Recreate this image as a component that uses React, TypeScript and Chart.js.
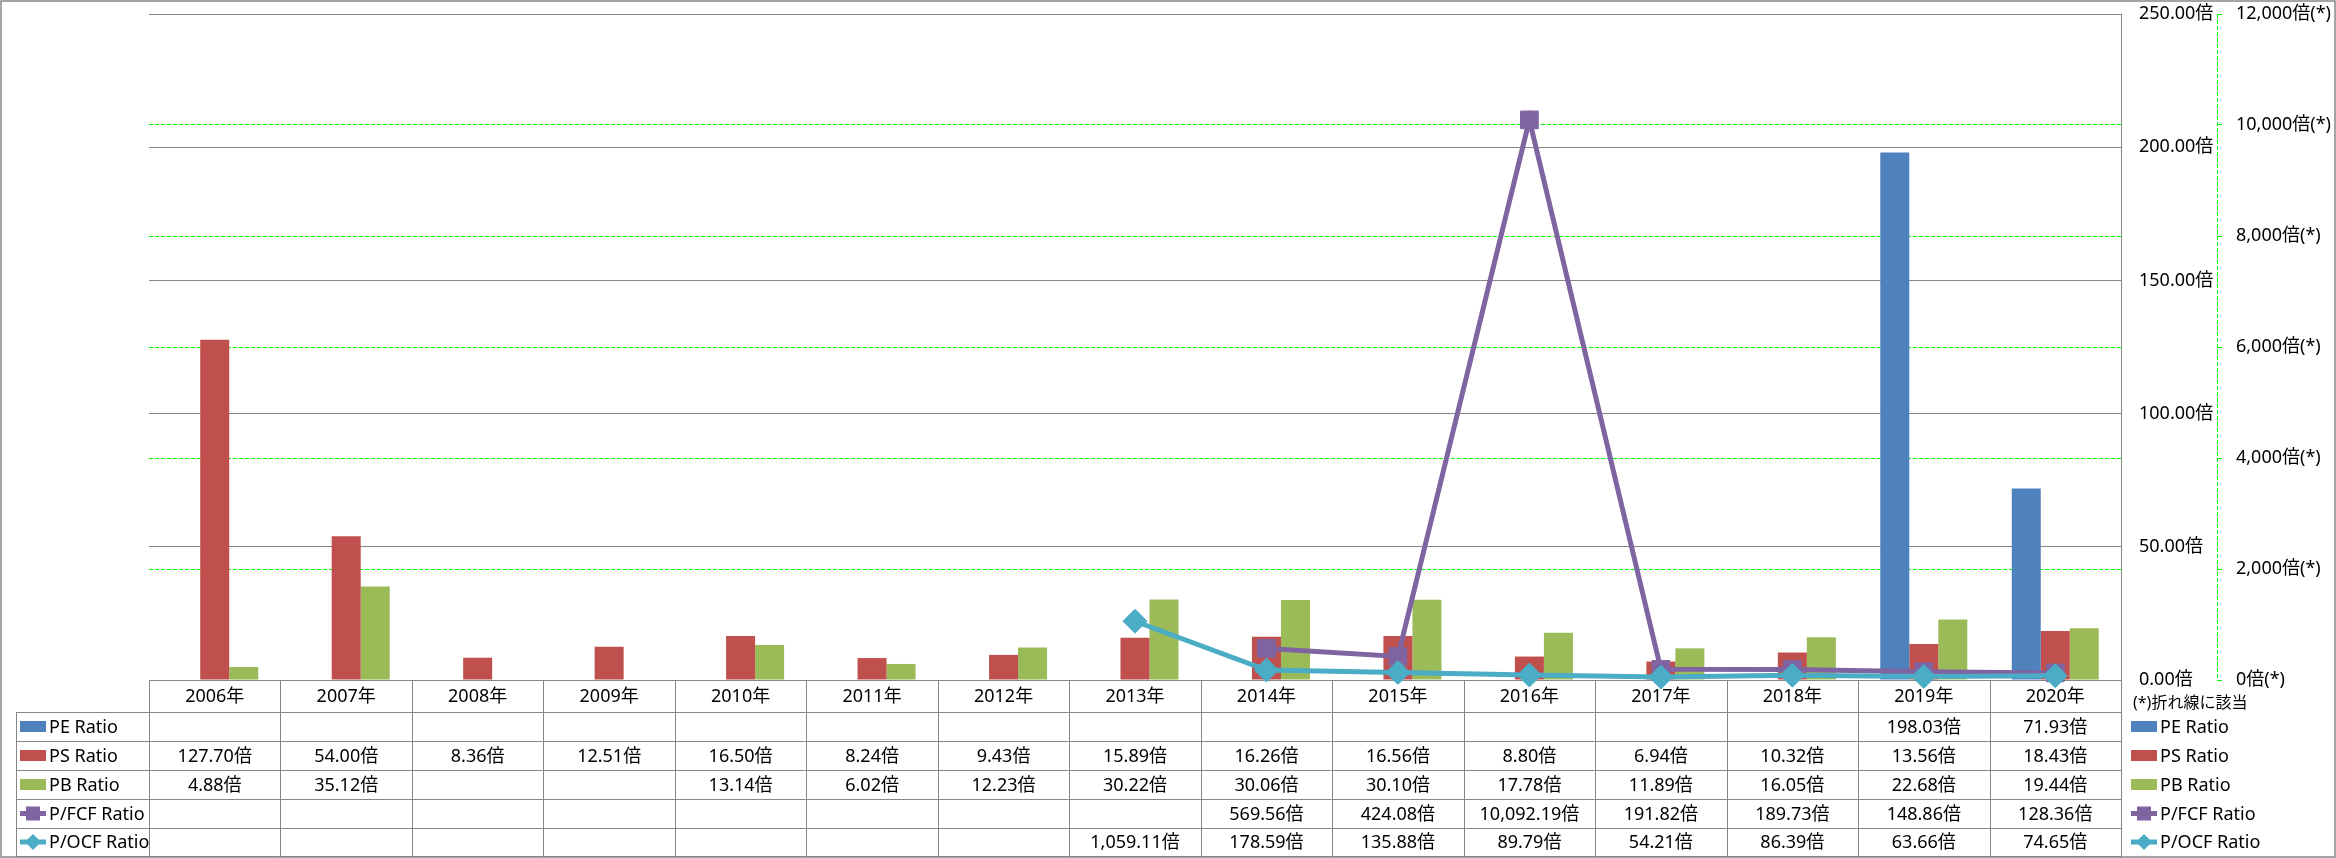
import React, { useEffect, useRef } from 'react';
import { Chart, registerables } from 'chart.js';

Chart.register(...registerables);

// ---------------- data ----------------
const categories = ['2006年', '2007年', '2008年', '2009年', '2010年', '2011年', '2012年', '2013年', '2014年', '2015年', '2016年', '2017年', '2018年', '2019年', '2020年'];
const peRatio = [null, null, null, null, null, null, null, null, null, null, null, null, null, 198.03, 71.93];
const psRatio = [127.70, 54.00, 8.36, 12.51, 16.50, 8.24, 9.43, 15.89, 16.26, 16.56, 8.80, 6.94, 10.32, 13.56, 18.43];
const pbRatio = [4.88, 35.12, null, null, 13.14, 6.02, 12.23, 30.22, 30.06, 30.10, 17.78, 11.89, 16.05, 22.68, 19.44];
const pfcfRatio = [null, null, null, null, null, null, null, null, 569.56, 424.08, 10092.19, 191.82, 189.73, 148.86, 128.36];
const pocfRatio = [null, null, null, null, null, null, null, 1059.11, 178.59, 135.88, 89.79, 54.21, 86.39, 63.66, 74.65];
const seriesNames = ['PE Ratio', 'PS Ratio', 'PB Ratio', 'P/FCF Ratio', 'P/OCF Ratio'];
const footnote = '(*)折れ線に該当';
const leftAxisRange = [0, 250, 50];
const rightAxisRange = [0, 12000, 2000];

// ---------------- styles ----------------
const COLORS = ['#4F81BD', '#C0504D', '#9BBB59', '#8064A2', '#4BACC6'];
const GRAY = '#868686';
const GREEN = '#00FF00';
const FONT_FAMILY = '"Noto Sans", "Noto Sans CJK JP", sans-serif';

const fmtVal = (v: number) =>
  v.toLocaleString('en-US', { minimumFractionDigits: 2, maximumFractionDigits: 2 }) + '倍';
const fmtLeft = (v: number) => Number(v).toFixed(2) + '倍';
const fmtRight = (v: number) => Number(v).toLocaleString('en-US') + '倍(*)';

const tableData = [peRatio, psRatio, pbRatio, pfcfRatio, pocfRatio];

function drawKey(ctx: CanvasRenderingContext2D, idx: number, x: number, cy: number) {
  const w = 26;
  ctx.save();
  ctx.fillStyle = COLORS[idx];
  ctx.strokeStyle = COLORS[idx];
  if (idx < 3) {
    ctx.fillRect(x, cy - 5.5, w, 11);
  } else {
    ctx.lineWidth = 5;
    ctx.beginPath();
    ctx.moveTo(x, cy);
    ctx.lineTo(x + w, cy);
    ctx.stroke();
    const cx = x + w / 2;
    ctx.beginPath();
    if (idx === 3) {
      ctx.rect(cx - 7, cy - 7, 14, 14);
    } else {
      ctx.moveTo(cx - 8, cy);
      ctx.lineTo(cx, cy - 8);
      ctx.lineTo(cx + 8, cy);
      ctx.lineTo(cx, cy + 8);
      ctx.closePath();
    }
    ctx.fill();
  }
  ctx.restore();
}

const tablePlugin = {
  id: 'dataTable',
  beforeDatasetsDraw(chart: any) {
    const { ctx, chartArea } = chart;
    const xs = chart.scales.x;
    const y1 = chart.scales.y;
    const y2 = chart.scales.y2;
    const n = categories.length;
    const colW = (chartArea.right - chartArea.left) / n;
    const rows = [chartArea.bottom, 712, 741, 770, 799, 828, 856];
    const tableLeft = 16;
    const a = (v: number) => Math.round(v) + 0.5;

    ctx.save();
    // secondary axis line (dashed green)
    ctx.strokeStyle = GREEN;
    ctx.lineWidth = 1;
    ctx.setLineDash([4, 2]);
    ctx.beginPath();
    ctx.moveTo(a(y2.left), y2.top);
    ctx.lineTo(a(y2.left), y2.bottom);
    ctx.stroke();
    ctx.setLineDash([]);

    // axis tick labels (left-aligned, as in the original)
    ctx.fillStyle = '#000';
    ctx.font = `18px ${FONT_FAMILY}`;
    ctx.textAlign = 'left';
    ctx.textBaseline = 'middle';
    y1.ticks.forEach((t: any) => {
      ctx.fillText(fmtLeft(t.value), y1.left + 18, y1.getPixelForValue(t.value));
    });
    y2.ticks.forEach((t: any) => {
      ctx.fillText(fmtRight(t.value), y2.left + 19, y2.getPixelForValue(t.value));
    });

    // table grid
    ctx.strokeStyle = GRAY;
    ctx.lineWidth = 1;
    ctx.beginPath();
    for (let r = 1; r < rows.length; r++) {
      ctx.moveTo(tableLeft, a(rows[r]));
      ctx.lineTo(chartArea.right, a(rows[r]));
    }
    for (let k = 0; k <= n; k++) {
      const xx = a(chartArea.left + k * colW);
      ctx.moveTo(xx, rows[0]);
      ctx.lineTo(xx, rows[rows.length - 1]);
    }
    ctx.moveTo(a(tableLeft), rows[1]);
    ctx.lineTo(a(tableLeft), rows[rows.length - 1]);
    ctx.moveTo(a(chartArea.right), chartArea.bottom);
    ctx.lineTo(a(chartArea.right), 858);
    ctx.stroke();

    // header labels
    ctx.fillStyle = '#000';
    ctx.textAlign = 'center';
    categories.forEach((c, i) => {
      ctx.fillText(c, xs.getPixelForValue(i), (rows[0] + rows[1]) / 2 + 1);
    });

    // rows
    tableData.forEach((arr, s) => {
      const cy = (rows[s + 1] + rows[s + 2]) / 2;
      drawKey(ctx, s, 20, cy);
      ctx.fillStyle = '#000';
      ctx.textAlign = 'left';
      ctx.fillText(seriesNames[s], 49, cy + 1);
      ctx.textAlign = 'center';
      arr.forEach((v, i) => {
        if (v === null || v === undefined) return;
        ctx.fillText(fmtVal(v as number), xs.getPixelForValue(i), cy + 1);
      });
      drawKey(ctx, s, 2131, cy);
      ctx.fillStyle = '#000';
      ctx.textAlign = 'left';
      ctx.fillText(seriesNames[s], 2160, cy + 1);
    });

    // footnote
    ctx.font = `16px ${FONT_FAMILY}`;
    ctx.textAlign = 'left';
    ctx.fillText(footnote, 2133, 703);

    ctx.restore();
  },
  afterDraw(chart: any) {
    const { ctx } = chart;
    ctx.save();
    ctx.strokeStyle = GRAY;
    ctx.lineWidth = 1.5;
    ctx.strokeRect(1, 1, 2334, 856);
    ctx.restore();
  },
};

export default function App() {
  const ref = useRef<HTMLCanvasElement | null>(null);

  useEffect(() => {
    document.body.style.margin = '0';
    const canvas = ref.current;
    if (!canvas) return;
    Chart.defaults.font.family = FONT_FAMILY;
    Chart.defaults.font.size = 18;
    Chart.defaults.color = '#000';

    const fitRight = (w: number) => (s: any) => {
      s.width = w;
      s.paddingTop = 0;
      s.paddingBottom = 0;
    };

    const chart = new Chart(canvas, {
      type: 'bar',
      data: {
        labels: categories,
        datasets: [
          { type: 'bar', label: seriesNames[0], data: peRatio, backgroundColor: COLORS[0], yAxisID: 'y', order: 2, categoryPercentage: 0.662, barPercentage: 1 },
          { type: 'bar', label: seriesNames[1], data: psRatio, backgroundColor: COLORS[1], yAxisID: 'y', order: 2, categoryPercentage: 0.662, barPercentage: 1 },
          { type: 'bar', label: seriesNames[2], data: pbRatio, backgroundColor: COLORS[2], yAxisID: 'y', order: 2, categoryPercentage: 0.662, barPercentage: 1 },
          {
            type: 'line', label: seriesNames[3], data: pfcfRatio, yAxisID: 'y2', order: 1,
            borderColor: COLORS[3], backgroundColor: COLORS[3], borderWidth: 5, tension: 0,
            pointStyle: 'rect', pointRadius: 12.5, pointBackgroundColor: COLORS[3], pointBorderColor: COLORS[3], pointBorderWidth: 1,
            clip: false,
          },
          {
            type: 'line', label: seriesNames[4], data: pocfRatio, yAxisID: 'y2', order: 0,
            borderColor: COLORS[4], backgroundColor: COLORS[4], borderWidth: 5, tension: 0,
            pointStyle: 'rectRot', pointRadius: 12, pointBackgroundColor: COLORS[4], pointBorderColor: COLORS[4], pointBorderWidth: 1,
            clip: false,
          },
        ] as any,
      },
      options: {
        responsive: false,
        animation: false,
        devicePixelRatio: 1,
        layout: { padding: { left: 149, top: 14, right: 0, bottom: 178 } },
        plugins: { legend: { display: false }, tooltip: { enabled: false } },
        scales: {
          x: { display: false, offset: true },
          y: {
            type: 'linear', position: 'right', weight: 0,
            min: leftAxisRange[0], max: leftAxisRange[1],
            ticks: { stepSize: leftAxisRange[2], display: false, callback: (v: any) => fmtLeft(v) },
            grid: { color: GRAY, lineWidth: 1, drawTicks: false },
            border: { display: true, color: GRAY, width: 1 },
            afterFit: fitRight(96),
          },
          y2: {
            type: 'linear', position: 'right', weight: 1,
            min: rightAxisRange[0], max: rightAxisRange[1],
            ticks: { stepSize: rightAxisRange[2], display: false, callback: (v: any) => fmtRight(v) },
            grid: {
              color: (c: any) => (c.tick && (c.tick.value === rightAxisRange[0] || c.tick.value === rightAxisRange[1]) ? 'rgba(0,0,0,0)' : GREEN),
              lineWidth: 1, drawTicks: true, tickLength: 5, tickColor: GREEN,
            },
            border: { display: false, dash: [4, 2] },
            afterFit: fitRight(119),
          },
        } as any,
      },
      plugins: [tablePlugin],
    });
    return () => chart.destroy();
  }, []);

  return (
    <div style={{ width: 2336, height: 858, background: '#fff' }}>
      <canvas ref={ref} width={2336} height={858} />
    </div>
  );
}
